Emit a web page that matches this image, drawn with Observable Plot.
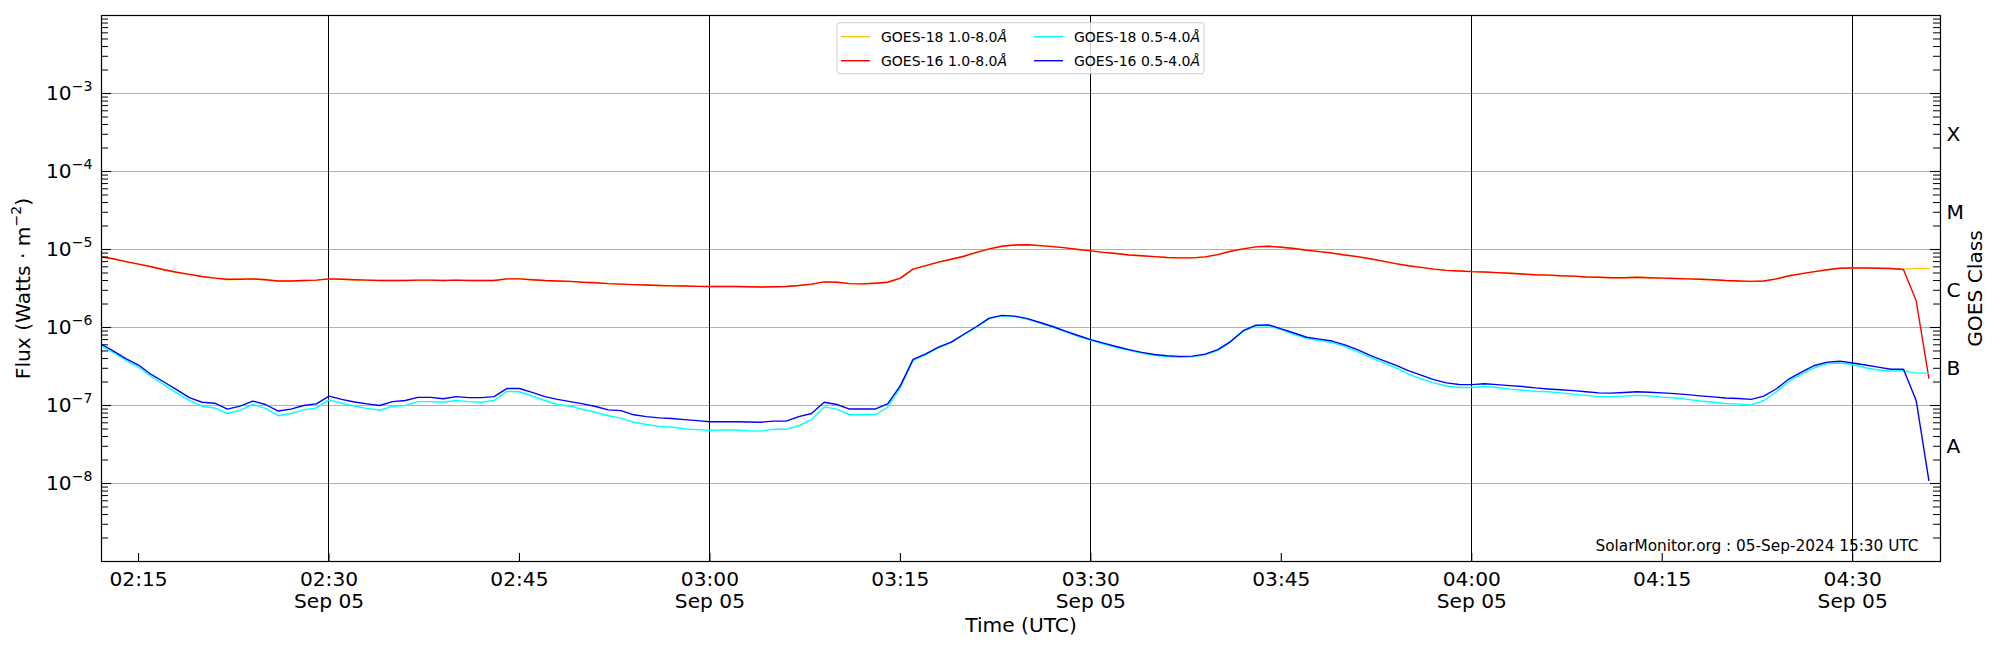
<!DOCTYPE html>
<html><head><meta charset="utf-8">
<script src="https://cdn.jsdelivr.net/npm/d3@7"></script>
<script src="https://cdn.jsdelivr.net/npm/@observablehq/plot@0.6"></script>
<style>
body{margin:0;background:#fff;}
#chart{width:2000px;height:650px;}
</style></head><body><div id="chart"></div>
<script>
// GOES X-ray flux, one sample per minute from 02:12 to 04:36 UTC, 05 Sep 2024
const startTime = "2024-09-05T02:12:00Z";
const goes18Long = [
 8.1e-6,7.6e-6,7.0e-6,6.5e-6,6.0e-6,5.5e-6,5.1e-6,4.8e-6,4.5e-6,4.3e-6,
 4.1e-6,4.15e-6,4.2e-6,4.1e-6,3.95e-6,3.95e-6,4.0e-6,4.05e-6,4.2e-6,4.15e-6,
 4.1e-6,4.05e-6,4.0e-6,4.0e-6,4.0e-6,4.05e-6,4.05e-6,4.0e-6,4.05e-6,4.0e-6,
 4.0e-6,4.0e-6,4.2e-6,4.2e-6,4.1e-6,4.0e-6,3.95e-6,3.9e-6,3.8e-6,3.75e-6,
 3.65e-6,3.6e-6,3.55e-6,3.5e-6,3.45e-6,3.42e-6,3.4e-6,3.37e-6,3.36e-6,3.35e-6,
 3.35e-6,3.33e-6,3.3e-6,3.33e-6,3.36e-6,3.45e-6,3.6e-6,3.85e-6,3.8e-6,3.65e-6,
 3.63e-6,3.7e-6,3.8e-6,4.3e-6,5.6e-6,6.2e-6,6.9e-6,7.5e-6,8.2e-6,9.2e-6,
 1.02e-5,1.1e-5,1.14e-5,1.15e-5,1.12e-5,1.09e-5,1.05e-5,1.0e-5,9.6e-6,9.2e-6,
 8.9e-6,8.5e-6,8.3e-6,8.1e-6,7.9e-6,7.8e-6,7.8e-6,8.05e-6,8.6e-6,9.5e-6,
 1.02e-5,1.08e-5,1.1e-5,1.07e-5,1.03e-5,9.8e-6,9.4e-6,9.0e-6,8.5e-6,8.1e-6,
 7.6e-6,7.1e-6,6.6e-6,6.2e-6,5.9e-6,5.6e-6,5.4e-6,5.3e-6,5.2e-6,5.15e-6,
 5.05e-6,4.95e-6,4.85e-6,4.75e-6,4.7e-6,4.6e-6,4.55e-6,4.45e-6,4.4e-6,4.35e-6,
 4.35e-6,4.4e-6,4.35e-6,4.3e-6,4.25e-6,4.2e-6,4.15e-6,4.1e-6,4.0e-6,3.95e-6,
 3.9e-6,3.95e-6,4.2e-6,4.6e-6,4.9e-6,5.2e-6,5.5e-6,5.75e-6,5.8e-6,5.8e-6,
 5.75e-6,5.7e-6,5.6e-6,5.7e-6,5.7e-6];
const goes16Long = [
 8.1e-6,7.6e-6,7.0e-6,6.5e-6,6.0e-6,5.5e-6,5.1e-6,4.8e-6,4.5e-6,4.3e-6,
 4.15e-6,4.15e-6,4.2e-6,4.1e-6,3.95e-6,3.95e-6,4.0e-6,4.05e-6,4.2e-6,4.15e-6,
 4.1e-6,4.05e-6,4.0e-6,4.0e-6,4.0e-6,4.05e-6,4.05e-6,4.0e-6,4.05e-6,4.0e-6,
 4.0e-6,4.0e-6,4.2e-6,4.2e-6,4.1e-6,4.0e-6,3.95e-6,3.9e-6,3.8e-6,3.75e-6,
 3.65e-6,3.6e-6,3.55e-6,3.5e-6,3.45e-6,3.42e-6,3.4e-6,3.37e-6,3.36e-6,3.35e-6,
 3.35e-6,3.33e-6,3.3e-6,3.33e-6,3.36e-6,3.45e-6,3.6e-6,3.85e-6,3.8e-6,3.65e-6,
 3.63e-6,3.7e-6,3.8e-6,4.3e-6,5.6e-6,6.2e-6,6.9e-6,7.5e-6,8.2e-6,9.2e-6,
 1.02e-5,1.1e-5,1.14e-5,1.15e-5,1.12e-5,1.09e-5,1.05e-5,1.0e-5,9.6e-6,9.2e-6,
 8.9e-6,8.5e-6,8.3e-6,8.1e-6,7.9e-6,7.8e-6,7.8e-6,8.05e-6,8.6e-6,9.5e-6,
 1.02e-5,1.08e-5,1.1e-5,1.07e-5,1.03e-5,9.8e-6,9.4e-6,9.0e-6,8.5e-6,8.1e-6,
 7.6e-6,7.1e-6,6.6e-6,6.2e-6,5.9e-6,5.6e-6,5.4e-6,5.3e-6,5.2e-6,5.15e-6,
 5.05e-6,4.95e-6,4.85e-6,4.75e-6,4.7e-6,4.6e-6,4.55e-6,4.45e-6,4.4e-6,4.35e-6,
 4.35e-6,4.4e-6,4.35e-6,4.3e-6,4.25e-6,4.2e-6,4.15e-6,4.1e-6,4.0e-6,3.95e-6,
 3.9e-6,3.95e-6,4.2e-6,4.6e-6,4.9e-6,5.2e-6,5.5e-6,5.75e-6,5.8e-6,5.8e-6,
 5.75e-6,5.7e-6,5.55e-6,2.2e-6,2.25e-7];
const goes18Short = [
 5.9e-7,4.8e-7,3.8e-7,3.1e-7,2.35e-7,1.85e-7,1.45e-7,1.16e-7,9.8e-8,9.3e-8,
 7.9e-8,8.7e-8,1.03e-7,9.2e-8,7.4e-8,7.9e-8,8.8e-8,9.3e-8,1.18e-7,1.07e-7,
 9.8e-8,9.2e-8,8.7e-8,9.8e-8,1.0e-7,1.12e-7,1.12e-7,1.1e-7,1.16e-7,1.12e-7,
 1.1e-7,1.16e-7,1.51e-7,1.5e-7,1.32e-7,1.16e-7,1.03e-7,9.8e-8,8.9e-8,8.2e-8,
 7.4e-8,6.9e-8,6.1e-8,5.7e-8,5.4e-8,5.3e-8,5.0e-8,4.9e-8,4.8e-8,4.85e-8,
 4.85e-8,4.75e-8,4.7e-8,4.95e-8,4.95e-8,5.5e-8,6.6e-8,9.6e-8,9.0e-8,7.6e-8,
 7.6e-8,7.6e-8,9.5e-8,1.7e-7,3.8e-7,4.5e-7,5.5e-7,6.4e-7,8.1e-7,1.01e-6,
 1.3e-6,1.41e-6,1.38e-6,1.28e-6,1.14e-6,1.01e-6,8.8e-7,7.7e-7,6.85e-7,6.15e-7,
 5.55e-7,5.1e-7,4.7e-7,4.4e-7,4.25e-7,4.15e-7,4.2e-7,4.45e-7,5.1e-7,6.5e-7,
 8.9e-7,1.05e-6,1.06e-6,9.4e-7,8.2e-7,7.2e-7,6.8e-7,6.4e-7,5.7e-7,4.9e-7,
 4.15e-7,3.55e-7,3.05e-7,2.55e-7,2.2e-7,1.95e-7,1.78e-7,1.7e-7,1.7e-7,1.75e-7,
 1.7e-7,1.62e-7,1.57e-7,1.52e-7,1.5e-7,1.45e-7,1.4e-7,1.35e-7,1.3e-7,1.3e-7,
 1.32e-7,1.35e-7,1.33e-7,1.28e-7,1.25e-7,1.2e-7,1.14e-7,1.1e-7,1.06e-7,1.04e-7,
 1.02e-7,1.16e-7,1.5e-7,2.05e-7,2.55e-7,3.05e-7,3.45e-7,3.5e-7,3.35e-7,3.05e-7,
 2.85e-7,2.75e-7,2.8e-7,2.6e-7,2.6e-7];
const goes16Short = [
 6.2e-7,5.0e-7,4.0e-7,3.3e-7,2.5e-7,2.0e-7,1.6e-7,1.26e-7,1.1e-7,1.07e-7,
 9.0e-8,9.8e-8,1.14e-7,1.03e-7,8.5e-8,9.0e-8,1.0e-7,1.05e-7,1.32e-7,1.2e-7,
 1.11e-7,1.05e-7,1.0e-7,1.12e-7,1.16e-7,1.27e-7,1.27e-7,1.22e-7,1.3e-7,1.26e-7,
 1.26e-7,1.3e-7,1.65e-7,1.65e-7,1.47e-7,1.3e-7,1.2e-7,1.12e-7,1.05e-7,9.7e-8,
 8.8e-8,8.6e-8,7.6e-8,7.2e-8,6.95e-8,6.8e-8,6.6e-8,6.4e-8,6.2e-8,6.2e-8,
 6.2e-8,6.15e-8,6.1e-8,6.3e-8,6.3e-8,7.2e-8,7.9e-8,1.1e-7,1.03e-7,9.0e-8,
 9.0e-8,9.0e-8,1.05e-7,1.8e-7,3.9e-7,4.6e-7,5.6e-7,6.5e-7,8.2e-7,1.03e-6,
 1.32e-6,1.43e-6,1.4e-6,1.3e-6,1.16e-6,1.03e-6,9.0e-7,7.9e-7,7.0e-7,6.3e-7,
 5.7e-7,5.2e-7,4.8e-7,4.5e-7,4.35e-7,4.26e-7,4.3e-7,4.55e-7,5.2e-7,6.6e-7,
 9.1e-7,1.07e-6,1.08e-6,9.6e-7,8.5e-7,7.5e-7,7.1e-7,6.7e-7,6.0e-7,5.2e-7,
 4.4e-7,3.8e-7,3.3e-7,2.8e-7,2.45e-7,2.15e-7,1.95e-7,1.86e-7,1.85e-7,1.9e-7,
 1.85e-7,1.8e-7,1.75e-7,1.68e-7,1.63e-7,1.59e-7,1.55e-7,1.5e-7,1.45e-7,1.44e-7,
 1.47e-7,1.5e-7,1.48e-7,1.45e-7,1.42e-7,1.38e-7,1.33e-7,1.29e-7,1.25e-7,1.23e-7,
 1.2e-7,1.32e-7,1.64e-7,2.2e-7,2.7e-7,3.26e-7,3.6e-7,3.7e-7,3.5e-7,3.3e-7,
 3.1e-7,2.92e-7,2.92e-7,1.16e-7,1.1e-8];

const seriesNames = ["GOES-18 1.0-8.0Å","GOES-16 1.0-8.0Å","GOES-18 0.5-4.0Å","GOES-16 0.5-4.0Å"];
const seriesColors = ["#ffc800","#ff0000","#00ffff","#0000ff"];
const xDomain = ["2024-09-05T02:12:05Z","2024-09-05T04:36:55Z"];
const yDomain = [1e-9, 1e-2];
const gridDecades = [1e-8,1e-7,1e-6,1e-5,1e-4,1e-3];
const xTickTimes = ["02:15","02:30","02:45","03:00","03:15","03:30","03:45","04:00","04:15","04:30"];
const majorTimes = ["02:30","03:00","03:30","04:00","04:30"];
const dateLabel = "Sep 05";
const classLabels = ["X","M","C","B","A"];
const classLevels = [3e-4,3e-5,3e-6,3e-7,3e-8];
const stamp = "SolarMonitor.org : 05-Sep-2024 15:30 UTC";
const yTitle = "Flux (Watts · m^{−2})";
const xTitle = "Time (UTC)";
const y2Title = "GOES Class";

// ---- build
const W = 2000, H = 650, mL = 101, mR = 60, mT = 15, mB = 89;
const fw = W - mL - mR, fh = H - mT - mB;
const t0 = new Date(startTime);
const allSeries = [goes18Long, goes16Long, goes18Short, goes16Short];
const rows = allSeries.map(vals => vals.map((v, i) => ({t: new Date(+t0 + i * 60000), v})));
const at = hm => new Date(`2024-09-05T${hm}:00Z`);
const minorTicks = d3.scaleLog().domain(yDomain).ticks().filter(d => d.toExponential()[0] !== "1");
const fmtHM = d3.utcFormat("%H:%M");
const FS = 20.2;

const legendMark = (index, scales, values, dims) => {
  const cx = (dims.marginLeft + dims.width - dims.marginRight) / 2;
  const bw = 367, bh = 51, bx = cx - bw / 2, by = dims.marginTop + 7.7;
  const g = d3.create("svg:g").attr("font-family", "'DejaVu Sans', sans-serif")
    .attr("font-size", 14).attr("text-anchor", "start");
  g.append("rect").attr("x", bx).attr("y", by).attr("width", bw).attr("height", bh).attr("rx", 3)
    .attr("fill", "#fff").attr("fill-opacity", 0.8).attr("stroke", "#cccccc").attr("stroke-width", 1);
  const colX = [4, 197], rowY = [14, 38];
  seriesNames.forEach((name, i) => {
    const x0 = bx + colX[Math.floor(i / 2)], y0 = by + rowY[i % 2];
    g.append("line").attr("x1", x0).attr("x2", x0 + 29).attr("y1", y0).attr("y2", y0)
      .attr("stroke", seriesColors[i]).attr("stroke-width", 1.4);
    const t = g.append("text").attr("x", x0 + 40).attr("y", y0).attr("dy", "0.35em")
      .attr("fill", "#000").attr("text-anchor", "start");
    t.append("tspan").text(name.replace("Å", ""));
    t.append("tspan").attr("font-style", "italic").text("Å");
  });
  return g.node();
};

const chart = Plot.plot({
  width: W, height: H, marginLeft: mL, marginRight: mR, marginTop: mT, marginBottom: mB,
  style: {fontFamily: "'DejaVu Sans', sans-serif", fontSize: FS + "px", background: "#fff", color: "#000"},
  x: {type: "utc", domain: xDomain.map(d => new Date(d))},
  y: {type: "log", domain: yDomain},
  marks: [
    Plot.ruleY(gridDecades, {y: d => d, stroke: "#b0b0b0", strokeWidth: 1.1}),
    Plot.ruleX(majorTimes.map(at), {x: d => d, stroke: "#000", strokeWidth: 1, shapeRendering: "crispEdges"}),
    ...rows.map((r, s) => Plot.line(r, {x: "t", y: "v", stroke: seriesColors[s], strokeWidth: 1.4, clip: true})),
    Plot.tickY(minorTicks, {y: d => d, insetRight: fw - 7, stroke: "#000", strokeWidth: 1}),
    Plot.tickY(minorTicks, {y: d => d, insetLeft: fw - 7, stroke: "#000", strokeWidth: 1}),
    Plot.tickY(gridDecades, {y: d => d, insetRight: fw - 10, stroke: "#000", strokeWidth: 1.1}),
    Plot.tickY(gridDecades, {y: d => d, insetLeft: fw - 10, stroke: "#000", strokeWidth: 1.1}),
    Plot.tickX(xTickTimes.map(at), {x: d => d, insetTop: fh - 8, stroke: "#000", strokeWidth: 1.1}),
    Plot.frame({stroke: "#000", strokeWidth: 1.2}),
    Plot.axisY({ticks: gridDecades, tickSize: 0, tickPadding: 9, fontSize: FS, label: null,
      tickFormat: d => "10^" + String(Math.round(Math.log10(d))).replace("-", "−")}),
    Plot.axisX({ticks: xTickTimes.map(at), tickSize: 0, tickPadding: 8, fontSize: FS, label: null, lineHeight: 1.12,
      tickFormat: d => { const s = fmtHM(d); return majorTimes.includes(s) ? s + "\n" + dateLabel : s; }}),
    Plot.text([xTitle], {frameAnchor: "bottom", dy: 64, lineAnchor: "middle", textAnchor: "middle", fontSize: FS}),
    Plot.text([yTitle], {frameAnchor: "left", dx: -78, rotate: -90, textAnchor: "middle", lineAnchor: "middle", fontSize: FS}),
    Plot.text([y2Title], {frameAnchor: "right", dx: 35, rotate: -90, textAnchor: "middle", lineAnchor: "middle", fontSize: FS}),
    Plot.text(classLabels, {y: classLevels, text: classLabels, frameAnchor: "right", dx: 6, textAnchor: "start", lineAnchor: "middle", fontSize: FS}),
    Plot.text([stamp], {frameAnchor: "bottom-right", dx: -22, dy: -15, textAnchor: "end", lineAnchor: "middle", fontSize: 15.3}),
    legendMark
  ]
});

// mathtext-like superscripts
chart.querySelectorAll("text").forEach(el => {
  if (el.querySelector("tspan")) return;
  const s = el.textContent;
  const m = s.match(/^(.*?)\^\{?([^}]*)\}?(.*)$/);
  if (!m) return;
  el.textContent = m[1];
  const sel = d3.select(el);
  sel.append("tspan").attr("dy", "-0.6em").attr("font-size", "70%").text(m[2]);
  if (m[3]) sel.append("tspan").attr("dy", "0.42em").text(m[3]);
});

document.getElementById("chart").appendChild(chart);
</script>
</body></html>
